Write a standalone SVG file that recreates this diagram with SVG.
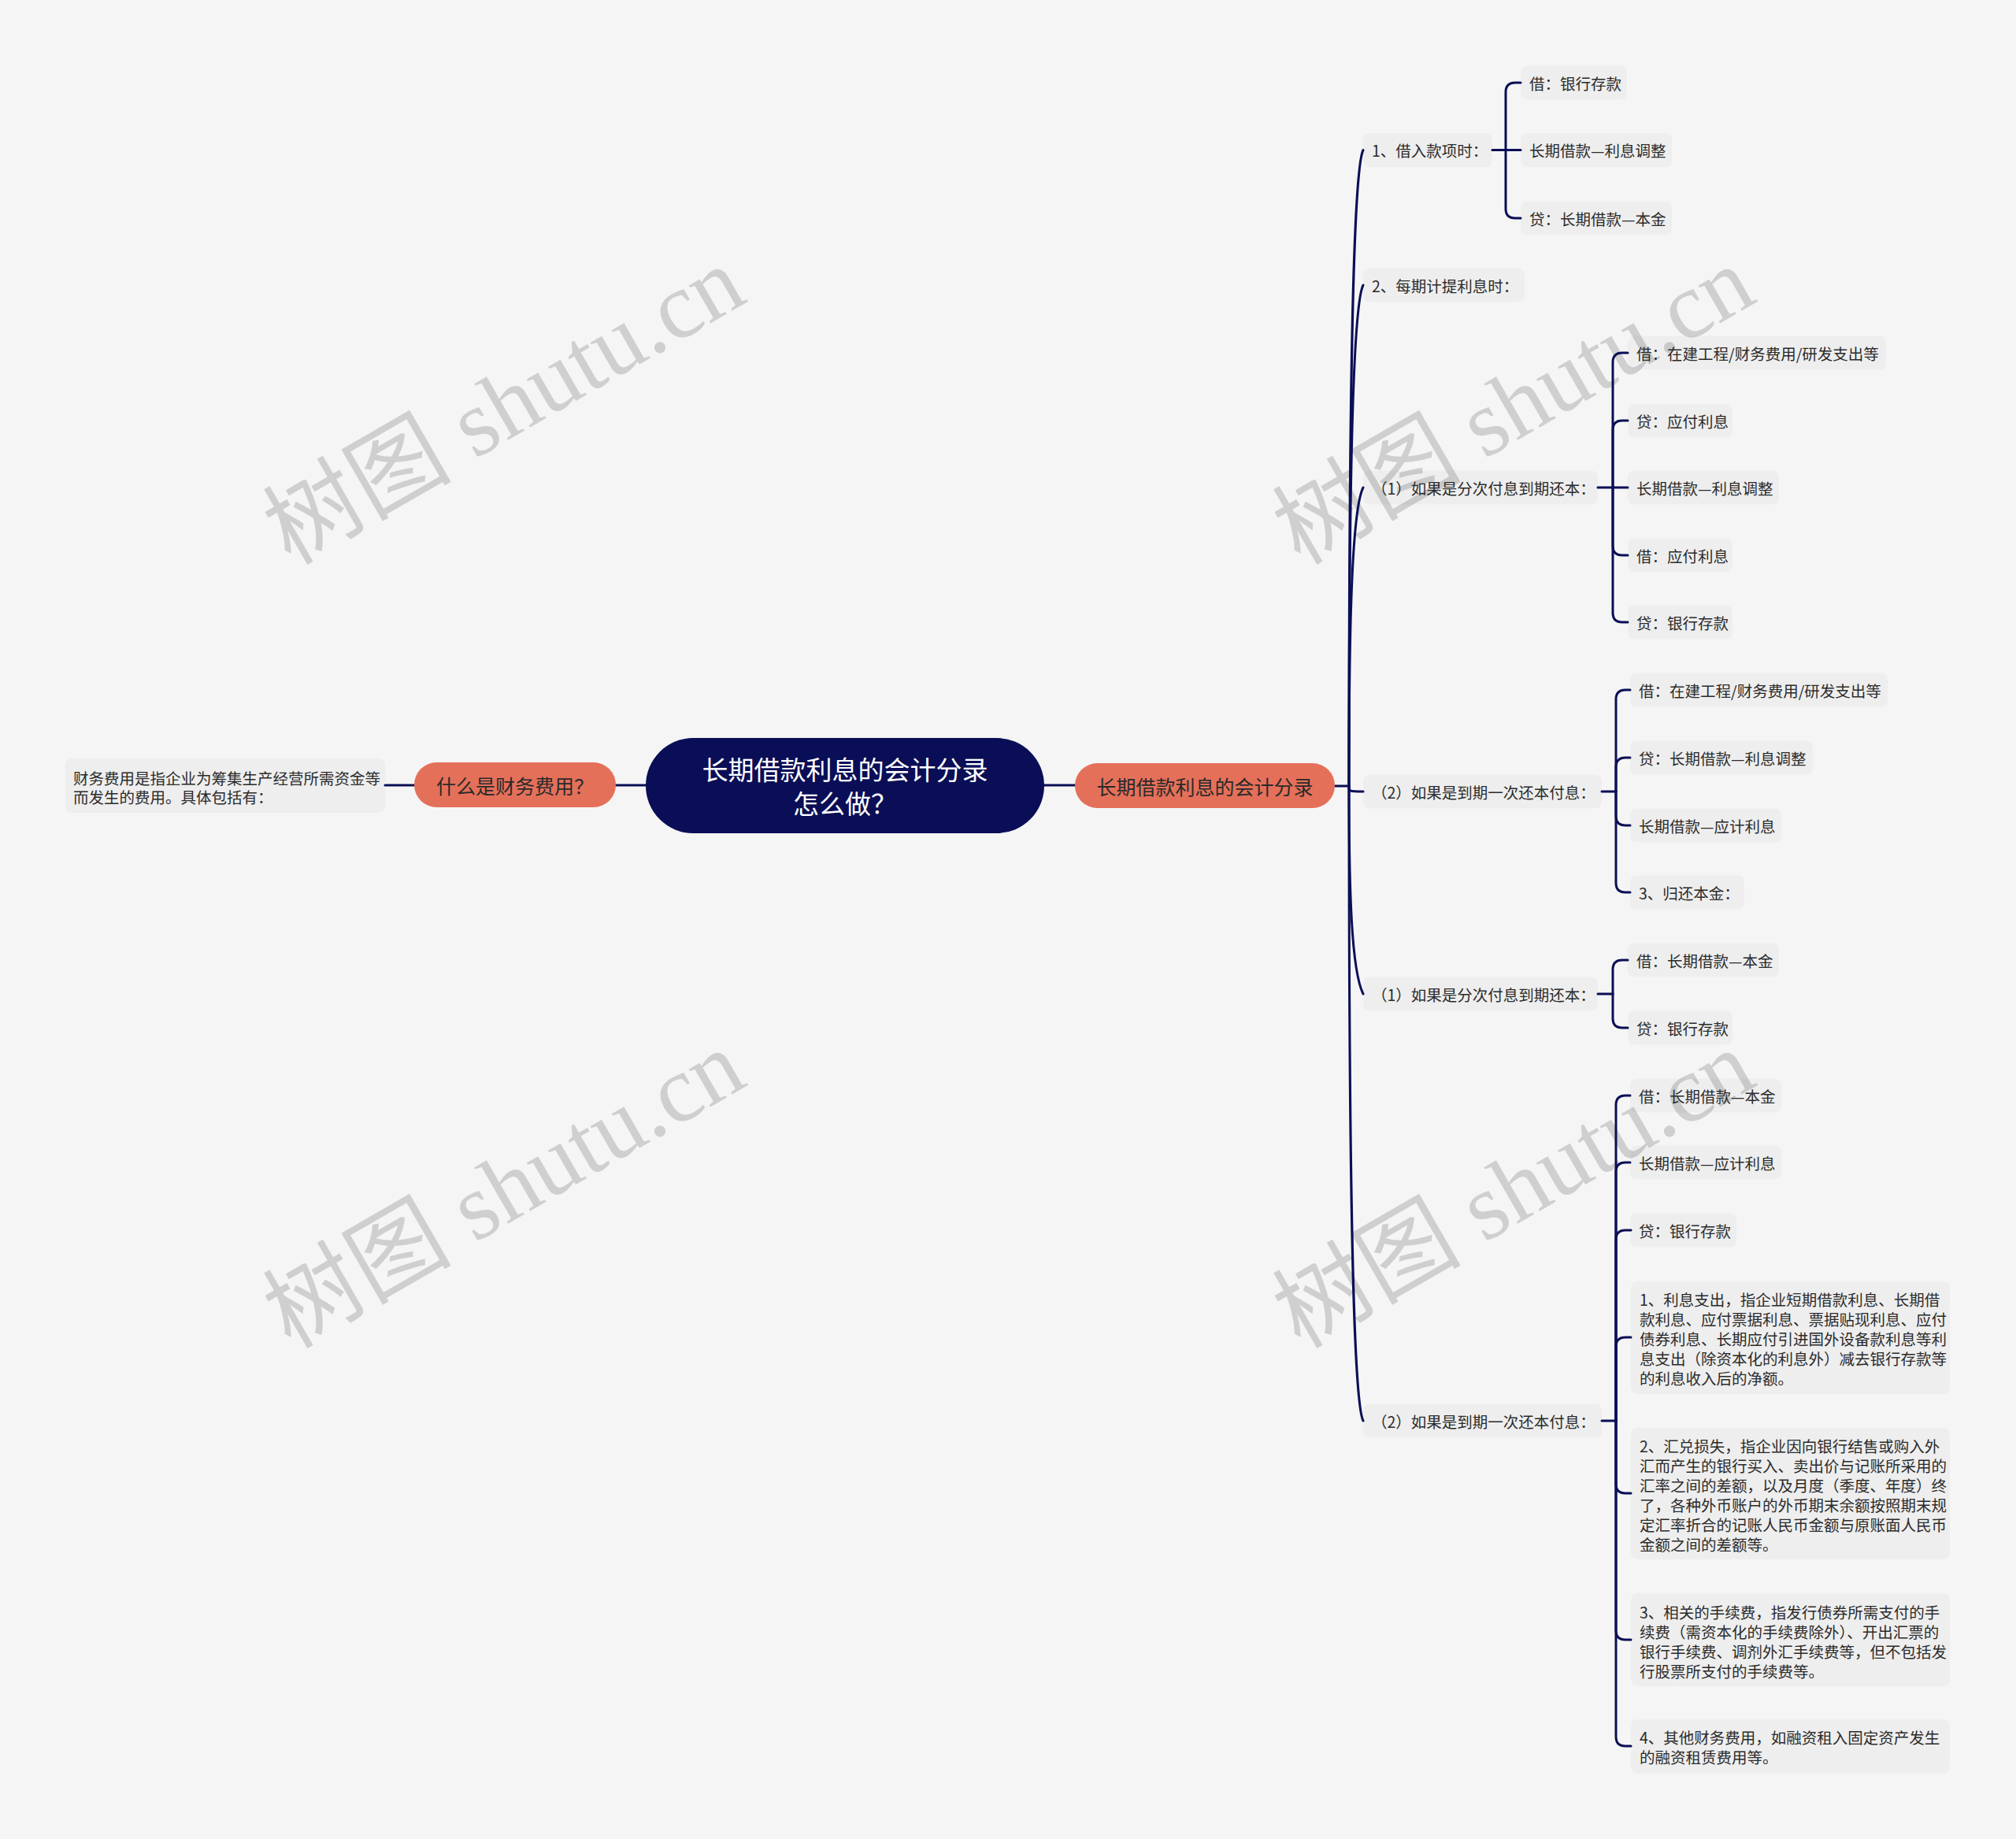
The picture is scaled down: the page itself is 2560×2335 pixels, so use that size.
<svg xmlns="http://www.w3.org/2000/svg" width="2560" height="2335" viewBox="0 0 2560 2335">
<style>
text{font-family:"Noto Sans CJK SC","Noto Sans",sans-serif;}
.leaf rect{fill:rgba(0,0,0,0.028);}
.leaf text{font-size:19.5px;fill:#2b2b2b;dominant-baseline:central;}
.conn path{fill:none;stroke:#0b0f56;stroke-width:3;stroke-linecap:round;}
.orange rect{fill:#e5705a;}
.orange text{font-size:25px;fill:#2a2a2a;text-anchor:middle;dominant-baseline:central;}
.wm{font-family:"Liberation Serif","Noto Sans CJK SC",serif;font-size:120px;fill:#cfcfcf;text-anchor:middle;dominant-baseline:central;}
</style>
<rect x="0" y="0" width="2560" height="2335" fill="#f5f5f5"/>
<g id="watermarks">
<text class="wm" x="640" y="515" transform="rotate(-30 640 515)">树图 shutu.cn</text>
<text class="wm" x="1922" y="515" transform="rotate(-30 1922 515)">树图 shutu.cn</text>
<text class="wm" x="640" y="1510" transform="rotate(-30 640 1510)">树图 shutu.cn</text>
<text class="wm" x="1922" y="1510" transform="rotate(-30 1922 1510)">树图 shutu.cn</text>
</g>
<g id="connectors" class="conn">
<path d="M820 997H782"/>
<path d="M526 997H489"/>
<path d="M1326 997H1365"/>
<path d="M1695 998H1713"/>
<path d="M1713 998C1713 594 1716 220.5 1731 190.5"/>
<path d="M1713 998C1713 680 1716 392 1731 362"/>
<path d="M1713 998C1713 808 1716 649 1731 619"/>
<path d="M1713 998C1713 1005 1713 1005 1731 1005"/>
<path d="M1713 998C1713 1130 1716 1232 1731 1262"/>
<path d="M1713 998C1713 1401 1716 1774 1731 1804"/>
<!-- group A -->
<path d="M1895 190.5H1931"/>
<path d="M1912 190.5V117Q1912 105 1924 105H1931"/>
<path d="M1912 190.5V265Q1912 277 1924 277H1931"/>
<!-- group C -->
<path d="M2029 619H2067"/>
<path d="M2048 619V460Q2048 448 2060 448H2067"/>
<path d="M2048 619V546Q2048 534 2060 534H2067"/>
<path d="M2048 619V693Q2048 705 2060 705H2067"/>
<path d="M2048 619V778Q2048 790 2060 790H2067"/>
<!-- group D -->
<path d="M2034 1005H2052"/>
<path d="M2052 1005V888Q2052 876 2064 876H2070"/>
<path d="M2052 1005V974Q2052 962 2064 962H2070"/>
<path d="M2052 1005V1036Q2052 1048 2064 1048H2070"/>
<path d="M2052 1005V1121Q2052 1133 2064 1133H2070"/>
<!-- group E -->
<path d="M2029 1262H2048"/>
<path d="M2048 1262V1231Q2048 1219 2060 1219H2067"/>
<path d="M2048 1262V1293Q2048 1305 2060 1305H2067"/>
<!-- group F -->
<path d="M2034 1804H2052"/>
<path d="M2052 1804V1403Q2052 1391 2064 1391H2070"/>
<path d="M2052 1804V1488Q2052 1476 2064 1476H2070"/>
<path d="M2052 1804V1574Q2052 1562 2064 1562H2071"/>
<path d="M2052 1804V1710Q2052 1698 2064 1698H2071"/>
<path d="M2052 1804V1884Q2052 1896 2064 1896H2071"/>
<path d="M2052 1804V2070Q2052 2082 2064 2082H2071"/>
<path d="M2052 1804V2205Q2052 2217 2064 2217H2071"/>
</g>
<g id="root">
<rect x="820" y="937" width="506" height="121" rx="60.5" fill="#0a0e56"/>
<text x="1073" y="976" font-size="33" fill="#ffffff" text-anchor="middle" dominant-baseline="central">长期借款利息的会计分录</text>
<text x="1073" y="1019" font-size="33" fill="#ffffff" text-anchor="middle" dominant-baseline="central">怎么做？</text>
</g>
<g id="n-left" class="orange">
<rect x="526" y="968" width="256" height="57" rx="28.5"/>
<text x="654" y="997">什么是财务费用？</text>
</g>
<g id="n-left-leaf" class="leaf">
<rect x="83" y="963" width="406" height="69" rx="8"/>
<text x="93" y="987">财务费用是指企业为筹集生产经营所需资金等</text>
<text x="93" y="1011">而发生的费用。具体包括有：</text>
</g>
<g id="n-right" class="orange">
<rect x="1365" y="969" width="330" height="57" rx="28.5"/>
<text x="1530" y="997.5">长期借款利息的会计分录</text>
</g>
<g id="n-a" class="leaf"><rect x="1731" y="169" width="164" height="43" rx="8"/><text x="1742" y="190.5">1、借入款项时：</text></g>
<g id="n-a1" class="leaf"><rect x="1931" y="83.5" width="135" height="43" rx="8"/><text x="1942" y="105">借：银行存款</text></g>
<g id="n-a2" class="leaf"><rect x="1931" y="169" width="192" height="43" rx="8"/><text x="1942" y="190.5">长期借款—利息调整</text></g>
<g id="n-a3" class="leaf"><rect x="1931" y="255.5" width="192" height="43" rx="8"/><text x="1942" y="277">贷：长期借款—本金</text></g>
<g id="n-b" class="leaf"><rect x="1731" y="340.5" width="205" height="43" rx="8"/><text x="1742" y="362">2、每期计提利息时：</text></g>
<g id="n-c" class="leaf"><rect x="1731" y="597.5" width="298" height="43" rx="8"/><text x="1742" y="619">（1）如果是分次付息到期还本：</text></g>
<g id="n-c1" class="leaf"><rect x="2067" y="426.5" width="328" height="43" rx="8"/><text x="2078" y="448">借：在建工程/财务费用/研发支出等</text></g>
<g id="n-c2" class="leaf"><rect x="2067" y="512.5" width="133" height="43" rx="8"/><text x="2078" y="534">贷：应付利息</text></g>
<g id="n-c3" class="leaf"><rect x="2067" y="597.5" width="192" height="43" rx="8"/><text x="2078" y="619">长期借款—利息调整</text></g>
<g id="n-c4" class="leaf"><rect x="2067" y="683.5" width="133" height="43" rx="8"/><text x="2078" y="705">借：应付利息</text></g>
<g id="n-c5" class="leaf"><rect x="2067" y="768.5" width="133" height="43" rx="8"/><text x="2078" y="790">贷：银行存款</text></g>
<g id="n-d" class="leaf"><rect x="1731" y="983.5" width="303" height="43" rx="8"/><text x="1742" y="1005">（2）如果是到期一次还本付息：</text></g>
<g id="n-d1" class="leaf"><rect x="2070" y="854.5" width="327" height="43" rx="8"/><text x="2081" y="876">借：在建工程/财务费用/研发支出等</text></g>
<g id="n-d2" class="leaf"><rect x="2070" y="940.5" width="232" height="43" rx="8"/><text x="2081" y="962">贷：长期借款—利息调整</text></g>
<g id="n-d3" class="leaf"><rect x="2070" y="1026.5" width="192" height="43" rx="8"/><text x="2081" y="1048">长期借款—应计利息</text></g>
<g id="n-d4" class="leaf"><rect x="2070" y="1111.5" width="145" height="43" rx="8"/><text x="2081" y="1133">3、归还本金：</text></g>
<g id="n-e" class="leaf"><rect x="1731" y="1240.5" width="298" height="43" rx="8"/><text x="1742" y="1262">（1）如果是分次付息到期还本：</text></g>
<g id="n-e1" class="leaf"><rect x="2067" y="1197.5" width="192" height="43" rx="8"/><text x="2078" y="1219">借：长期借款—本金</text></g>
<g id="n-e2" class="leaf"><rect x="2067" y="1283.5" width="133" height="43" rx="8"/><text x="2078" y="1305">贷：银行存款</text></g>
<g id="n-f" class="leaf"><rect x="1731" y="1782.5" width="303" height="43" rx="8"/><text x="1742" y="1804">（2）如果是到期一次还本付息：</text></g>
<g id="n-f1" class="leaf"><rect x="2070" y="1369.5" width="192" height="43" rx="8"/><text x="2081" y="1391">借：长期借款—本金</text></g>
<g id="n-f2" class="leaf"><rect x="2070" y="1454.5" width="192" height="43" rx="8"/><text x="2081" y="1476">长期借款—应计利息</text></g>
<g id="n-f3" class="leaf"><rect x="2070" y="1540.5" width="135" height="43" rx="8"/><text x="2081" y="1562">贷：银行存款</text></g>
<g id="n-f4" class="leaf"><rect x="2071" y="1627" width="405" height="143" rx="8"/>
<text x="2082" y="1649">1、利息支出，指企业短期借款利息、长期借</text>
<text x="2082" y="1674">款利息、应付票据利息、票据贴现利息、应付</text>
<text x="2082" y="1699">债券利息、长期应付引进国外设备款利息等利</text>
<text x="2082" y="1724">息支出（除资本化的利息外）减去银行存款等</text>
<text x="2082" y="1749">的利息收入后的净额。</text></g>
<g id="n-f5" class="leaf"><rect x="2071" y="1813" width="405" height="167" rx="8"/>
<text x="2082" y="1835">2、汇兑损失，指企业因向银行结售或购入外</text>
<text x="2082" y="1860">汇而产生的银行买入、卖出价与记账所采用的</text>
<text x="2082" y="1885">汇率之间的差额，以及月度（季度、年度）终</text>
<text x="2082" y="1910">了，各种外币账户的外币期末余额按照期末规</text>
<text x="2082" y="1935">定汇率折合的记账人民币金额与原账面人民币</text>
<text x="2082" y="1960">金额之间的差额等。</text></g>
<g id="n-f6" class="leaf"><rect x="2071" y="2023" width="405" height="118" rx="8"/>
<text x="2082" y="2046">3、相关的手续费，指发行债券所需支付的手</text>
<text x="2082" y="2071">续费（需资本化的手续费除外）、开出汇票的</text>
<text x="2082" y="2096">银行手续费、调剂外汇手续费等，但不包括发</text>
<text x="2082" y="2121">行股票所支付的手续费等。</text></g>
<g id="n-f7" class="leaf"><rect x="2071" y="2183" width="405" height="69" rx="8"/>
<text x="2082" y="2205">4、其他财务费用，如融资租入固定资产发生</text>
<text x="2082" y="2230">的融资租赁费用等。</text></g>
</svg>
